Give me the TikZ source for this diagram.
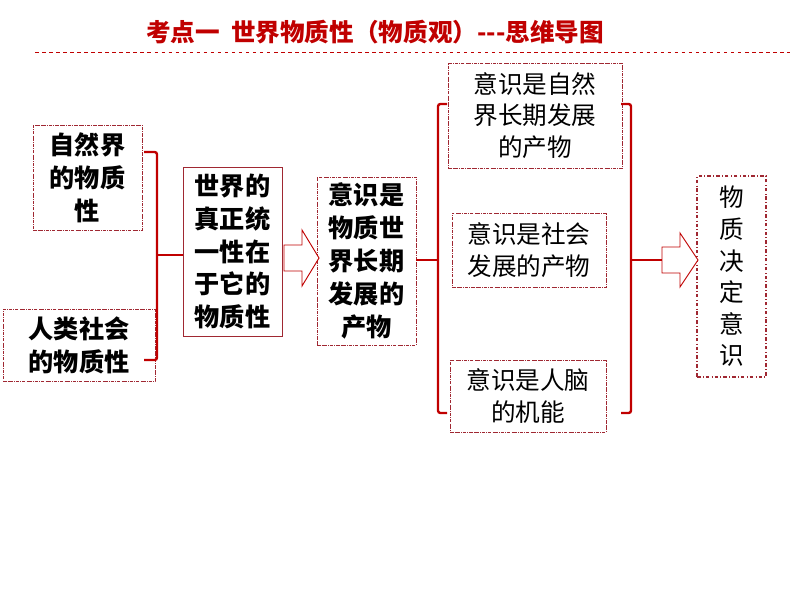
\documentclass[tikz,border=0pt]{standalone}
\usepackage{fontspec}
\setmainfont{Noto Sans CJK SC}
\usetikzlibrary{positioning,calc}
\definecolor{mmred}{RGB}{192,0,0}
\definecolor{mmdark}{RGB}{160,40,50}
\tikzset{
  dotbox/.style={draw=mmdark, densely dash dot, line width=0.5pt, align=center, inner sep=0pt, font=\fontsize{21}{27}\selectfont},
  boldbox/.style={dotbox, font=\fontsize{21.5}{28}\selectfont\bfseries},
  brace/.style={draw=mmred, line width=2pt, rounded corners=2pt},
  hollow/.style={draw=mmred, fill=white, line width=0.8pt}
}
\begin{document}
\begin{tikzpicture}[x=0.03cm,y=-0.03cm]
    \useasboundingbox (0,0) rectangle (794,596);
    % Title
    \node[text=mmred, font=\fontsize{21}{22}\selectfont\bfseries] (title) at (375,32) {考点一\ \ 世界物质性（物质观）{-}{-}{-}思维导图};
    \draw[mmred, dashed, line width=0.6pt] (35,52) -- (790,52);

    % Left column
    \node[boldbox, minimum width=109*0.03cm, minimum height=105*0.03cm] (nature) at (87.5,177.5) {自然界\\的物质\\性};
    \node[boldbox, minimum width=152*0.03cm, minimum height=72*0.03cm] (society) at (79,345) {人类社会\\的物质性};
    \node[boldbox, draw=mmdark, solid, minimum width=99*0.03cm, minimum height=169*0.03cm] (unity) at (232.5,251.5) {世界的\\真正统\\一性在\\于它的\\物质性};
    \node[boldbox, minimum width=99*0.03cm, minimum height=168*0.03cm] (product) at (366.5,261) {意识是\\物质世\\界长期\\发展的\\产物};

    % Right column
    \node[dotbox, minimum width=174*0.03cm, minimum height=105*0.03cm] (natural) at (535,115.5) {意识是自然\\界长期发展\\的产物};
    \node[dotbox, minimum width=154*0.03cm, minimum height=74*0.03cm] (social) at (529,250) {意识是社会\\发展的产物};
    \node[dotbox, minimum width=156*0.03cm, minimum height=72*0.03cm] (brain) at (528,396) {意识是人脑\\的机能};
    \node[dotbox, dash dot, line width=1.6pt, minimum width=69*0.03cm, minimum height=201*0.03cm] (decide) at (731.5,276.5) {物\\质\\决\\定\\意\\识};

    % Braces
    \draw[brace] (144,152) -- (157,152) -- (157,360) -- (144,360);
    \draw[mmred, line width=1.5pt] (157,255) -- (unity.west |- 0,255);
    \draw[mmred, line width=1.5pt] (product.east |- 0,260) -- (438,260);
    \draw[brace] (447,104) -- (438,104) -- (438,413) -- (447,413);
    \draw[brace] (621,104) -- (631,104) -- (631,413) -- (621,413);
    \draw[mmred, line width=1.5pt] (631,260) -- (662,260);

    % Hollow arrows
    \draw[hollow] (284,245) -- (302,245) -- (302,230) -- (319,258) -- (302,286) -- (302,271) -- (284,271) -- cycle;
    \draw[hollow] (662,247) -- (680,247) -- (680,233) -- (698,260) -- (680,287) -- (680,273) -- (662,273) -- cycle;
\end{tikzpicture}
\end{document}
